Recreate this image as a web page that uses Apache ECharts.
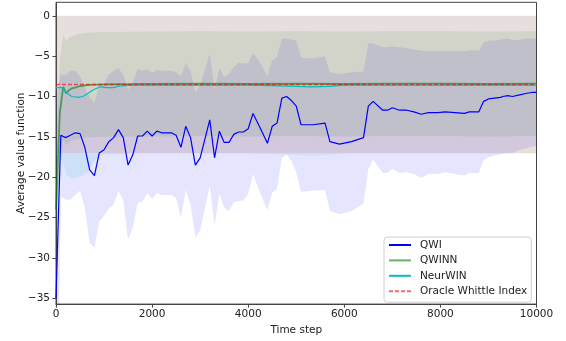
<!DOCTYPE html>
<html>
<head>
<meta charset="utf-8">
<script src="https://cdn.jsdelivr.net/npm/echarts@6/dist/echarts.min.js"></script>
<style>
  html, body { margin: 0; padding: 0; background: #fff; }
  #chart { width: 566px; height: 341px; }
</style>
</head>
<body>
<div id="chart"></div>
<script>
// ---- QWI: mean value and half-width of its shaded band ----
const qwiSteps = [0,100,200,300,400,500,600,700,800,900,1000,1100,1200,1300,1400,1500,1600,1700,1800,1900,
  2000,2100,2200,2400,2500,2600,2700,2800,2900,3000,3200,3300,3400,3500,3600,3700,3800,3900,4000,4100,
  4250,4400,4500,4600,4700,4800,4900,5000,5100,5350,5600,5700,5900,6150,6400,6500,6600,6800,6900,7000,
  7150,7300,7450,7600,7750,7950,8100,8300,8500,8600,8800,8900,9000,9250,9300,9400,9500,9650,9800,9900,10000];
const qwiMean = [-35,-14.8,-15.1,-14.8,-14.5,-14.6,-16.3,-19.1,-19.8,-17.0,-16.6,-15.6,-15.1,-14.1,-15.1,-18.5,-17.2,-14.9,-14.9,-14.3,
  -14.9,-14.3,-14.5,-14.5,-14.8,-16.3,-13.7,-15.1,-18.5,-17.6,-12.9,-17.6,-14.3,-15.7,-15.7,-14.7,-14.4,-14.4,-14.0,-12.1,
  -13.9,-15.8,-13.7,-13.3,-10.2,-10.0,-10.5,-11.2,-13.5,-13.5,-13.3,-15.6,-15.9,-15.6,-15.1,-11.2,-10.6,-11.7,-11.7,-11.4,
  -11.7,-11.7,-11.9,-12.2,-12.0,-12.0,-11.9,-12.0,-12.1,-11.9,-11.9,-10.6,-10.3,-10.1,-10.0,-9.9,-10.0,-9.8,-9.6,-9.5,-9.5];
const qwiSpread = [25,7.6,7.7,8.0,7.7,7.1,7.5,9.0,9.0,8.5,8.2,8.3,8.3,7.6,7.8,9.3,9.0,8.3,8.1,7.7,
  7.8,7.6,7.7,7.7,7.8,8.8,7.9,8.3,9.0,9.0,8.2,8.4,7.8,8.1,8.5,8.4,8.6,8.5,8.1,7.5,
  8.1,8.3,8.2,8.2,7.4,7.2,7.5,8.2,8.3,8.2,8.3,8.6,8.7,8.6,8.2,7.8,7.2,7.8,7.8,7.6,
  7.8,7.7,7.7,7.9,7.6,7.6,7.5,7.6,7.7,7.6,7.6,7.3,7.2,7.1,7.1,7.1,7.0,6.8,6.8,6.7,6.7];

// ---- QWINN ----
const qwinnSteps = [0,80,150,210,270,330,400,500,700,1000,2000,3000,4000,5000,6000,7000,8000,9000,10000];
const qwinnMean = [-24,-12,-8.8,-9.6,-9.2,-9.0,-8.9,-8.7,-8.55,-8.5,-8.45,-8.4,-8.45,-8.4,-8.45,-8.4,-8.4,-8.45,-8.4];
const qwinnSpread = [6.5,6.5,6.5,6.5,6.5,6.5,6.5,6.5,6.5,6.5,6.5,6.5,6.5,6.5,6.5,6.5,6.5,6.5,6.5];

// ---- NeurWIN: mean with lower / upper edges of its band ----
const neurwinSteps = [0,125,230,330,460,560,670,770,920,1060,1190,1330,1600,2000,3000,4000,4500,5000,5300,5700,6000,7000,8000,9000,10000];
const neurwinMean = [-8.9,-8.9,-9.6,-10.0,-10.1,-10.0,-9.6,-9.2,-8.8,-8.9,-8.9,-8.7,-8.6,-8.6,-8.6,-8.6,-8.65,-8.75,-8.8,-8.75,-8.6,-8.6,-8.6,-8.6,-8.6];
const neurwinLow = [-17.4,-17.9,-19.8,-20.2,-20.0,-19.7,-19.4,-18.2,-17.3,-17.2,-17.2,-17.2,-17.1,-17.1,-17.1,-17.1,-17.15,-17.25,-17.3,-17.25,-17.1,-17.1,-17.1,-17.1,-17.1];
const neurwinHigh = [0,0,0,0,0,0,0,0,0,0,0,0,0,0,0,0,0,0,0,0,0,0,0,0,0];

// ---- Oracle Whittle Index (constant) ----
const oracleSteps = [0, 10000];
const oracleMean = [-8.5, -8.5];
const oracleSpread = [8.5, 8.5];

// ---- axis ticks ----
const xTicks = [0, 2000, 4000, 6000, 8000, 10000];
const yTicks = [-35, -30, -25, -20, -15, -10, -5, 0];

const FONT = 'DejaVu Sans';
const zip = (xs, ys) => xs.map((x, i) => [x, ys[i]]);
const plus = (a, b) => a.map((v, i) => v + b[i]);
const minusArr = (a, b) => a.map((v, i) => v - b[i]);

// Shaded band between two edges, drawn as one polygon in data coordinates.
function band(name, steps, low, high, fill) {
  return {
    type: 'custom',
    name: name,
    coordinateSystem: 'cartesian2d',
    silent: true,
    clip: true,
    z: 1,
    data: [[steps[0], low[0]]],
    renderItem: function (params, api) {
      const upper = [], lower = [];
      for (let i = 0; i < steps.length; i++) {
        upper.push(api.coord([steps[i], high[i]]));
        lower.push(api.coord([steps[i], low[i]]));
      }
      return {
        type: 'polygon',
        shape: { points: upper.concat(lower.reverse()) },
        style: { fill: fill }
      };
    }
  };
}

function line(name, steps, mean, color, width, type, z) {
  return {
    type: 'line',
    name: name,
    data: zip(steps, mean),
    symbol: 'none',
    z: z,
    lineStyle: { color: color, width: width, type: type },
    itemStyle: { color: color }
  };
}

const chart = echarts.init(document.getElementById('chart'), null, { renderer: 'canvas' });
const fmtY = v => (v < 0 ? '\u2212' + Math.abs(v) : String(v));

chart.setOption({
  animation: false,
  backgroundColor: '#ffffff',
  grid: {
    left: 56, right: 29.5, top: 2.3, bottom: 34.3,
    show: true, borderColor: '#444', borderWidth: 1, backgroundColor: 'transparent'
  },
  legend: {
    data: ['QWI', 'QWINN', 'NeurWIN', 'Oracle Whittle Index'],
    orient: 'vertical',
    left: 384, top: 237,
    padding: [2, 4, 5, 4],
    itemWidth: 22, itemHeight: 12, itemGap: 3.4,
    itemStyle: { opacity: 0 },
    borderColor: '#d0d0d0', borderWidth: 1, borderRadius: 3,
    backgroundColor: 'rgba(255,255,255,0.8)',
    textStyle: { fontFamily: FONT, fontSize: 10.5, color: '#222', padding: [0, 0, 0, 4], lineHeight: 12 }
  },
  xAxis: {
    type: 'value', min: 0, max: 10000, interval: 2000,
    name: 'Time step', nameLocation: 'middle', nameGap: 18,
    nameTextStyle: { fontFamily: FONT, fontSize: 10.5, color: '#222' },
    axisLine: { show: true, onZero: false, lineStyle: { color: '#444', width: 1 } },
    axisTick: { show: true, length: 3.5, lineStyle: { color: '#444' } },
    axisLabel: { margin: 5, fontFamily: FONT, fontSize: 10.5, color: '#222', formatter: v => String(v) },
    splitLine: { show: false }
  },
  yAxis: {
    type: 'value', min: -35.74, max: 1.68,
    name: 'Average value function', nameLocation: 'middle', nameGap: 29,
    nameMoveOverlap: false,
    nameTextStyle: { fontFamily: FONT, fontSize: 10.5, color: '#222' },
    axisLine: { show: true, onZero: false, lineStyle: { color: '#444', width: 1 } },
    axisTick: { show: true, length: 3.5, lineStyle: { color: '#444' }, customValues: yTicks },
    axisLabel: { margin: 6, fontFamily: FONT, fontSize: 10.5, color: '#222', customValues: yTicks, formatter: fmtY },
    splitLine: { show: false }
  },
  series: [
    band('QWI band', qwiSteps, minusArr(qwiMean, qwiSpread), plus(qwiMean, qwiSpread), 'rgba(0,0,255,0.1)'),
    band('QWINN band', qwinnSteps, minusArr(qwinnMean, qwinnSpread), plus(qwinnMean, qwinnSpread), 'rgba(0,128,0,0.1)'),
    band('NeurWIN band', neurwinSteps, neurwinLow, neurwinHigh, 'rgba(0,191,191,0.1)'),
    band('Oracle band', oracleSteps, minusArr(oracleMean, oracleSpread), plus(oracleMean, oracleSpread), 'rgba(255,0,0,0.1)'),
    line('QWI', qwiSteps, qwiMean, '#0000ff', 1.2, 'solid', 3),
    line('QWINN', qwinnSteps, qwinnMean, 'rgba(0,128,0,0.6)', 1.8, 'solid', 4),
    line('NeurWIN', neurwinSteps, neurwinMean, '#00bfbf', 1.2, 'solid', 5),
    line('Oracle Whittle Index', oracleSteps, oracleMean, 'rgba(255,0,0,0.6)', 1.5, [4, 2], 6)
  ]
});
</script>
</body>
</html>
